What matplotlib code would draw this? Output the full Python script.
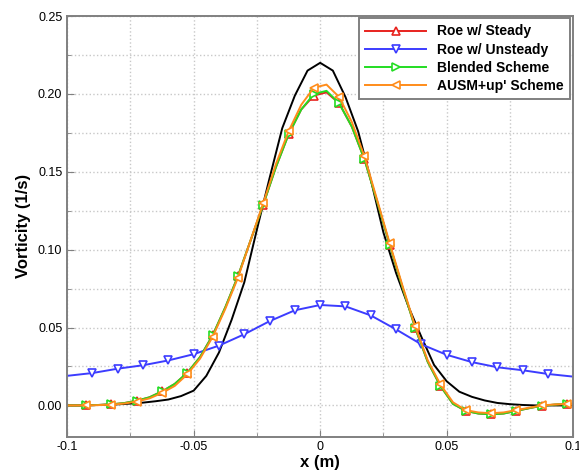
import matplotlib
matplotlib.use('Agg')
import matplotlib.pyplot as plt
from matplotlib.ticker import MultipleLocator, FormatStrFormatter


plt.rcParams['font.family'] = ['Liberation Sans', 'DejaVu Sans']

# reference (black) curve, x every 0.005
x_ref = [-0.1, -0.095, -0.09, -0.085, -0.08, -0.075, -0.07, -0.065, -0.06, -0.055,
         -0.05, -0.045, -0.04, -0.035, -0.03, -0.025, -0.02, -0.015, -0.01, -0.005,
         0.0, 0.005, 0.01, 0.015, 0.02, 0.025, 0.03, 0.035, 0.04, 0.045,
         0.05, 0.055, 0.06, 0.065, 0.07, 0.075, 0.08, 0.085, 0.09, 0.095, 0.1]
v_ref = [0.0, 0.0, 0.0002, 0.0004, 0.0007, 0.0012, 0.0018, 0.0027, 0.0038, 0.006,
         0.0095, 0.019, 0.034, 0.055, 0.079, 0.113, 0.146, 0.178, 0.199, 0.215,
         0.220, 0.215, 0.198, 0.176, 0.145, 0.111, 0.085, 0.063, 0.044, 0.026,
         0.0155, 0.0088, 0.0055, 0.0032, 0.0016, 0.0008, 0.0003, 0.0, 0.0, 0.0, 0.0]

# schemes on the cell grid (markers every other point, from -0.0925)
x_cell = [-0.1, -0.0975, -0.0925, -0.0875, -0.0825, -0.0775, -0.0725, -0.0675, -0.0625, -0.0575,
          -0.0525, -0.0475, -0.0425, -0.0375, -0.0325, -0.0275, -0.0225, -0.0175, -0.0125, -0.0075,
          -0.0025, 0.0025, 0.0075, 0.0125, 0.0175, 0.0225, 0.0275, 0.0325, 0.0375, 0.0425,
          0.0475, 0.0525, 0.0575, 0.0625, 0.0675, 0.0725, 0.0775, 0.0825, 0.0875, 0.0925,
          0.0975, 0.1]
v_ausm = [0.0, 0.0, 0.0, 0.0002, 0.0005, 0.0012, 0.0025, 0.0045, 0.008, 0.0125,
          0.020, 0.030, 0.044, 0.062, 0.082, 0.106, 0.130, 0.155, 0.176, 0.193,
          0.204, 0.206, 0.198, 0.182, 0.160, 0.132, 0.104, 0.077, 0.051, 0.029,
          0.0135, 0.002, -0.003, -0.0045, -0.005, -0.0045, -0.003, -0.0015, 0.0, 0.0006,
          0.001, 0.001]
v_blend = [0.0, 0.0, 0.0, 0.0003, 0.0007, 0.0015, 0.003, 0.0052, 0.009, 0.0138,
           0.021, 0.031, 0.045, 0.063, 0.083, 0.106, 0.129, 0.153, 0.174, 0.190,
           0.200, 0.202, 0.194, 0.179, 0.158, 0.131, 0.103, 0.076, 0.050, 0.028,
           0.0125, 0.001, -0.0035, -0.0052, -0.0057, -0.0052, -0.0035, -0.0018, -0.0002, 0.0005,
           0.001, 0.001]
v_steady = [0.0, 0.0, 0.0, 0.0003, 0.0007, 0.0015, 0.003, 0.0052, 0.009, 0.0138,
            0.021, 0.031, 0.045, 0.063, 0.083, 0.106, 0.129, 0.153, 0.174, 0.190,
            0.199, 0.201, 0.194, 0.179, 0.158, 0.131, 0.103, 0.076, 0.050, 0.028,
            0.0125, 0.001, -0.0035, -0.0052, -0.0057, -0.0052, -0.0035, -0.0018, -0.0002, 0.0005,
            0.001, 0.001]

# Roe w/ unsteady, x every 0.01
x_unst = [-0.1, -0.09, -0.08, -0.07, -0.06, -0.05, -0.04, -0.03, -0.02, -0.01, 0.0,
          0.01, 0.02, 0.03, 0.04, 0.05, 0.06, 0.07, 0.08, 0.09, 0.1]
v_unst = [0.019, 0.0208, 0.0236, 0.0258, 0.0289, 0.0329, 0.0384, 0.0457, 0.0541, 0.0611, 0.0645,
          0.0636, 0.0578, 0.0488, 0.0392, 0.0325, 0.0278, 0.0245, 0.0226, 0.0202, 0.0185]

labels = ['Roe w/ Steady', 'Roe w/ Unsteady', 'Blended Scheme', "AUSM+up' Scheme"]


fig = plt.figure(figsize=(5.79, 4.73), dpi=100)
ax = fig.add_axes([0.116, 0.077, 0.874, 0.889])

mk = dict(markersize=5.5, markeredgewidth=1.2, markerfacecolor='white', linewidth=1.4)
cell_marks = slice(2, 41, 2)

ax.plot(x_ref, v_ref, color='black', linewidth=1.4)
ax.plot(x_cell, v_steady, color='#e8231e', marker='^', markevery=cell_marks, label=labels[0], **mk)
ax.plot(x_unst, v_unst, color='#3c3cff', marker='v', markevery=slice(1, 20), label=labels[1], **mk)
ax.plot(x_cell, v_blend, color='#22dd22', marker='>', markevery=cell_marks, label=labels[2], **mk)
ax.plot(x_cell, v_ausm, color='#ff8c1a', marker='<', markevery=cell_marks, label=labels[3], **mk)

ax.set_xlim(-0.1, 0.1)
ax.set_ylim(-0.02, 0.25)
ax.xaxis.set_major_locator(MultipleLocator(0.05))
ax.xaxis.set_minor_locator(MultipleLocator(0.025))
ax.yaxis.set_major_locator(MultipleLocator(0.05))
ax.yaxis.set_minor_locator(MultipleLocator(0.025))
ax.xaxis.set_major_formatter(plt.FuncFormatter(lambda v, p: '0' if abs(v) < 1e-9 else ('%g' % v)))
ax.yaxis.set_major_formatter(FormatStrFormatter('%.2f'))

ax.grid(True, which='both', color='#c8c8c8', linestyle=':', linewidth=1.0)
ax.set_axisbelow(True)
ax.tick_params(which='both', direction='in', color='#808080', labelsize=9, labelcolor='black')
ax.tick_params(which='major', length=5)
ax.tick_params(which='minor', length=3)
for s in ax.spines.values():
    s.set_color('#808080')
    s.set_linewidth(1.4)

ax.set_xlabel('x (m)', fontsize=12, fontweight='bold', labelpad=1)
ax.set_ylabel('Vorticity (1/s)', fontsize=12, fontweight='bold', labelpad=5)

leg = ax.legend(loc='upper right', bbox_to_anchor=(0.998, 1.0), fancybox=False,
                edgecolor='#808080', framealpha=1, handlelength=4.4, handletextpad=0.8,
                labelspacing=0.3, borderpad=0.45, borderaxespad=0.15,
                prop={'weight': 'bold', 'size': 10})
leg.get_frame().set_linewidth(1.4)

fig.savefig('out.png', dpi=100)
